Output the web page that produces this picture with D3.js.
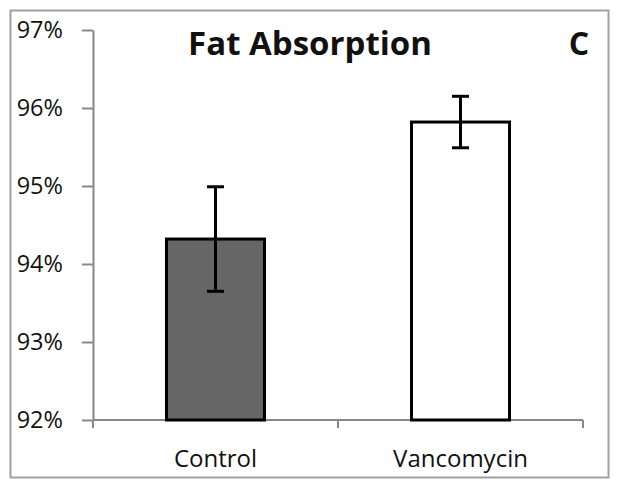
<!DOCTYPE html>
<html><head><meta charset="utf-8">
<script src="https://cdn.jsdelivr.net/npm/d3@7"></script>
<style>body{margin:0;background:#fff}svg{display:block}</style>
</head><body>
<svg id="c" width="621" height="490"></svg>
<script>
const categories = ["Control", "Vancomycin"];
const values = [94.32, 95.82];
const errors = [0.67, 0.33];
const fills = ["#666666", "#ffffff"];
const yTicks = [92, 93, 94, 95, 96, 97];
const title = "Fat Absorption";
const panel = "C";

const svg = d3.select("#c");
const font = "'Open Sans', 'Liberation Sans', sans-serif";
svg.append("rect").attr("x", 10.5).attr("y", 10.5).attr("width", 598).attr("height", 467)
  .attr("fill", "#fff").attr("stroke", "#a0a0a0").attr("stroke-width", 2);

const x = d3.scaleBand().domain(categories).range([93, 583]).paddingInner(0.6).paddingOuter(0.3);
const y = d3.scaleLinear().domain([92, 97]).range([420, 30]);

// y axis
const ya = svg.append("g").attr("transform", "translate(93,0)")
  .call(d3.axisLeft(y).tickValues(yTicks).tickFormat(d => d + "%").tickSize(11).tickSizeOuter(0));
ya.select(".domain").attr("stroke", "#888").attr("stroke-width", 2);
ya.selectAll(".tick line").attr("stroke", "#888").attr("stroke-width", 2);
ya.selectAll(".tick text").attr("font-family", font).attr("font-size", 23.5).attr("fill", "#111").attr("x", -30);

// x axis
const xa = svg.append("g").attr("transform", "translate(0,420)");
xa.append("line").attr("x1", 93).attr("x2", 583).attr("stroke", "#888").attr("stroke-width", 2);
const xt = [93, 93 + x.step(), 93 + 2 * x.step()];
xa.selectAll(".xt").data(xt).enter().append("line")
  .attr("x1", d => d).attr("x2", d => d).attr("y1", 0).attr("y2", 8)
  .attr("stroke", "#888").attr("stroke-width", 2);
xa.selectAll(".xl").data(categories).enter().append("text")
  .attr("x", d => x(d) + x.bandwidth() / 2).attr("y", 47)
  .attr("text-anchor", "middle").attr("font-family", font).attr("font-size", 24).attr("fill", "#111")
  .text(d => d);

// bars
svg.selectAll(".bar").data(categories).enter().append("rect")
  .attr("x", d => x(d)).attr("width", x.bandwidth())
  .attr("y", (d, i) => y(values[i])).attr("height", (d, i) => y(92) - y(values[i]))
  .attr("fill", (d, i) => fills[i]).attr("stroke", "#000").attr("stroke-width", 3);

// error bars
const eb = svg.selectAll(".eb").data(categories).enter().append("g");
eb.append("line").attr("x1", d => x(d) + x.bandwidth() / 2).attr("x2", d => x(d) + x.bandwidth() / 2)
  .attr("y1", (d, i) => y(values[i] + errors[i])).attr("y2", (d, i) => y(values[i] - errors[i]))
  .attr("stroke", "#000").attr("stroke-width", 3);
[1, -1].forEach(s => {
  eb.append("line").attr("x1", d => x(d) + x.bandwidth() / 2 - 8.5).attr("x2", d => x(d) + x.bandwidth() / 2 + 8.5)
    .attr("y1", (d, i) => y(values[i] + s * errors[i])).attr("y2", (d, i) => y(values[i] + s * errors[i]))
    .attr("stroke", "#000").attr("stroke-width", 3);
});

svg.append("text").attr("x", 310).attr("y", 55).attr("text-anchor", "middle")
  .attr("font-family", font).attr("font-weight", "bold").attr("font-size", 33).attr("fill", "#111").text(title);
svg.append("text").attr("x", 579).attr("y", 55).attr("text-anchor", "middle")
  .attr("font-family", font).attr("font-weight", "bold").attr("font-size", 32).attr("fill", "#111").text(panel);
</script>
</body></html>
